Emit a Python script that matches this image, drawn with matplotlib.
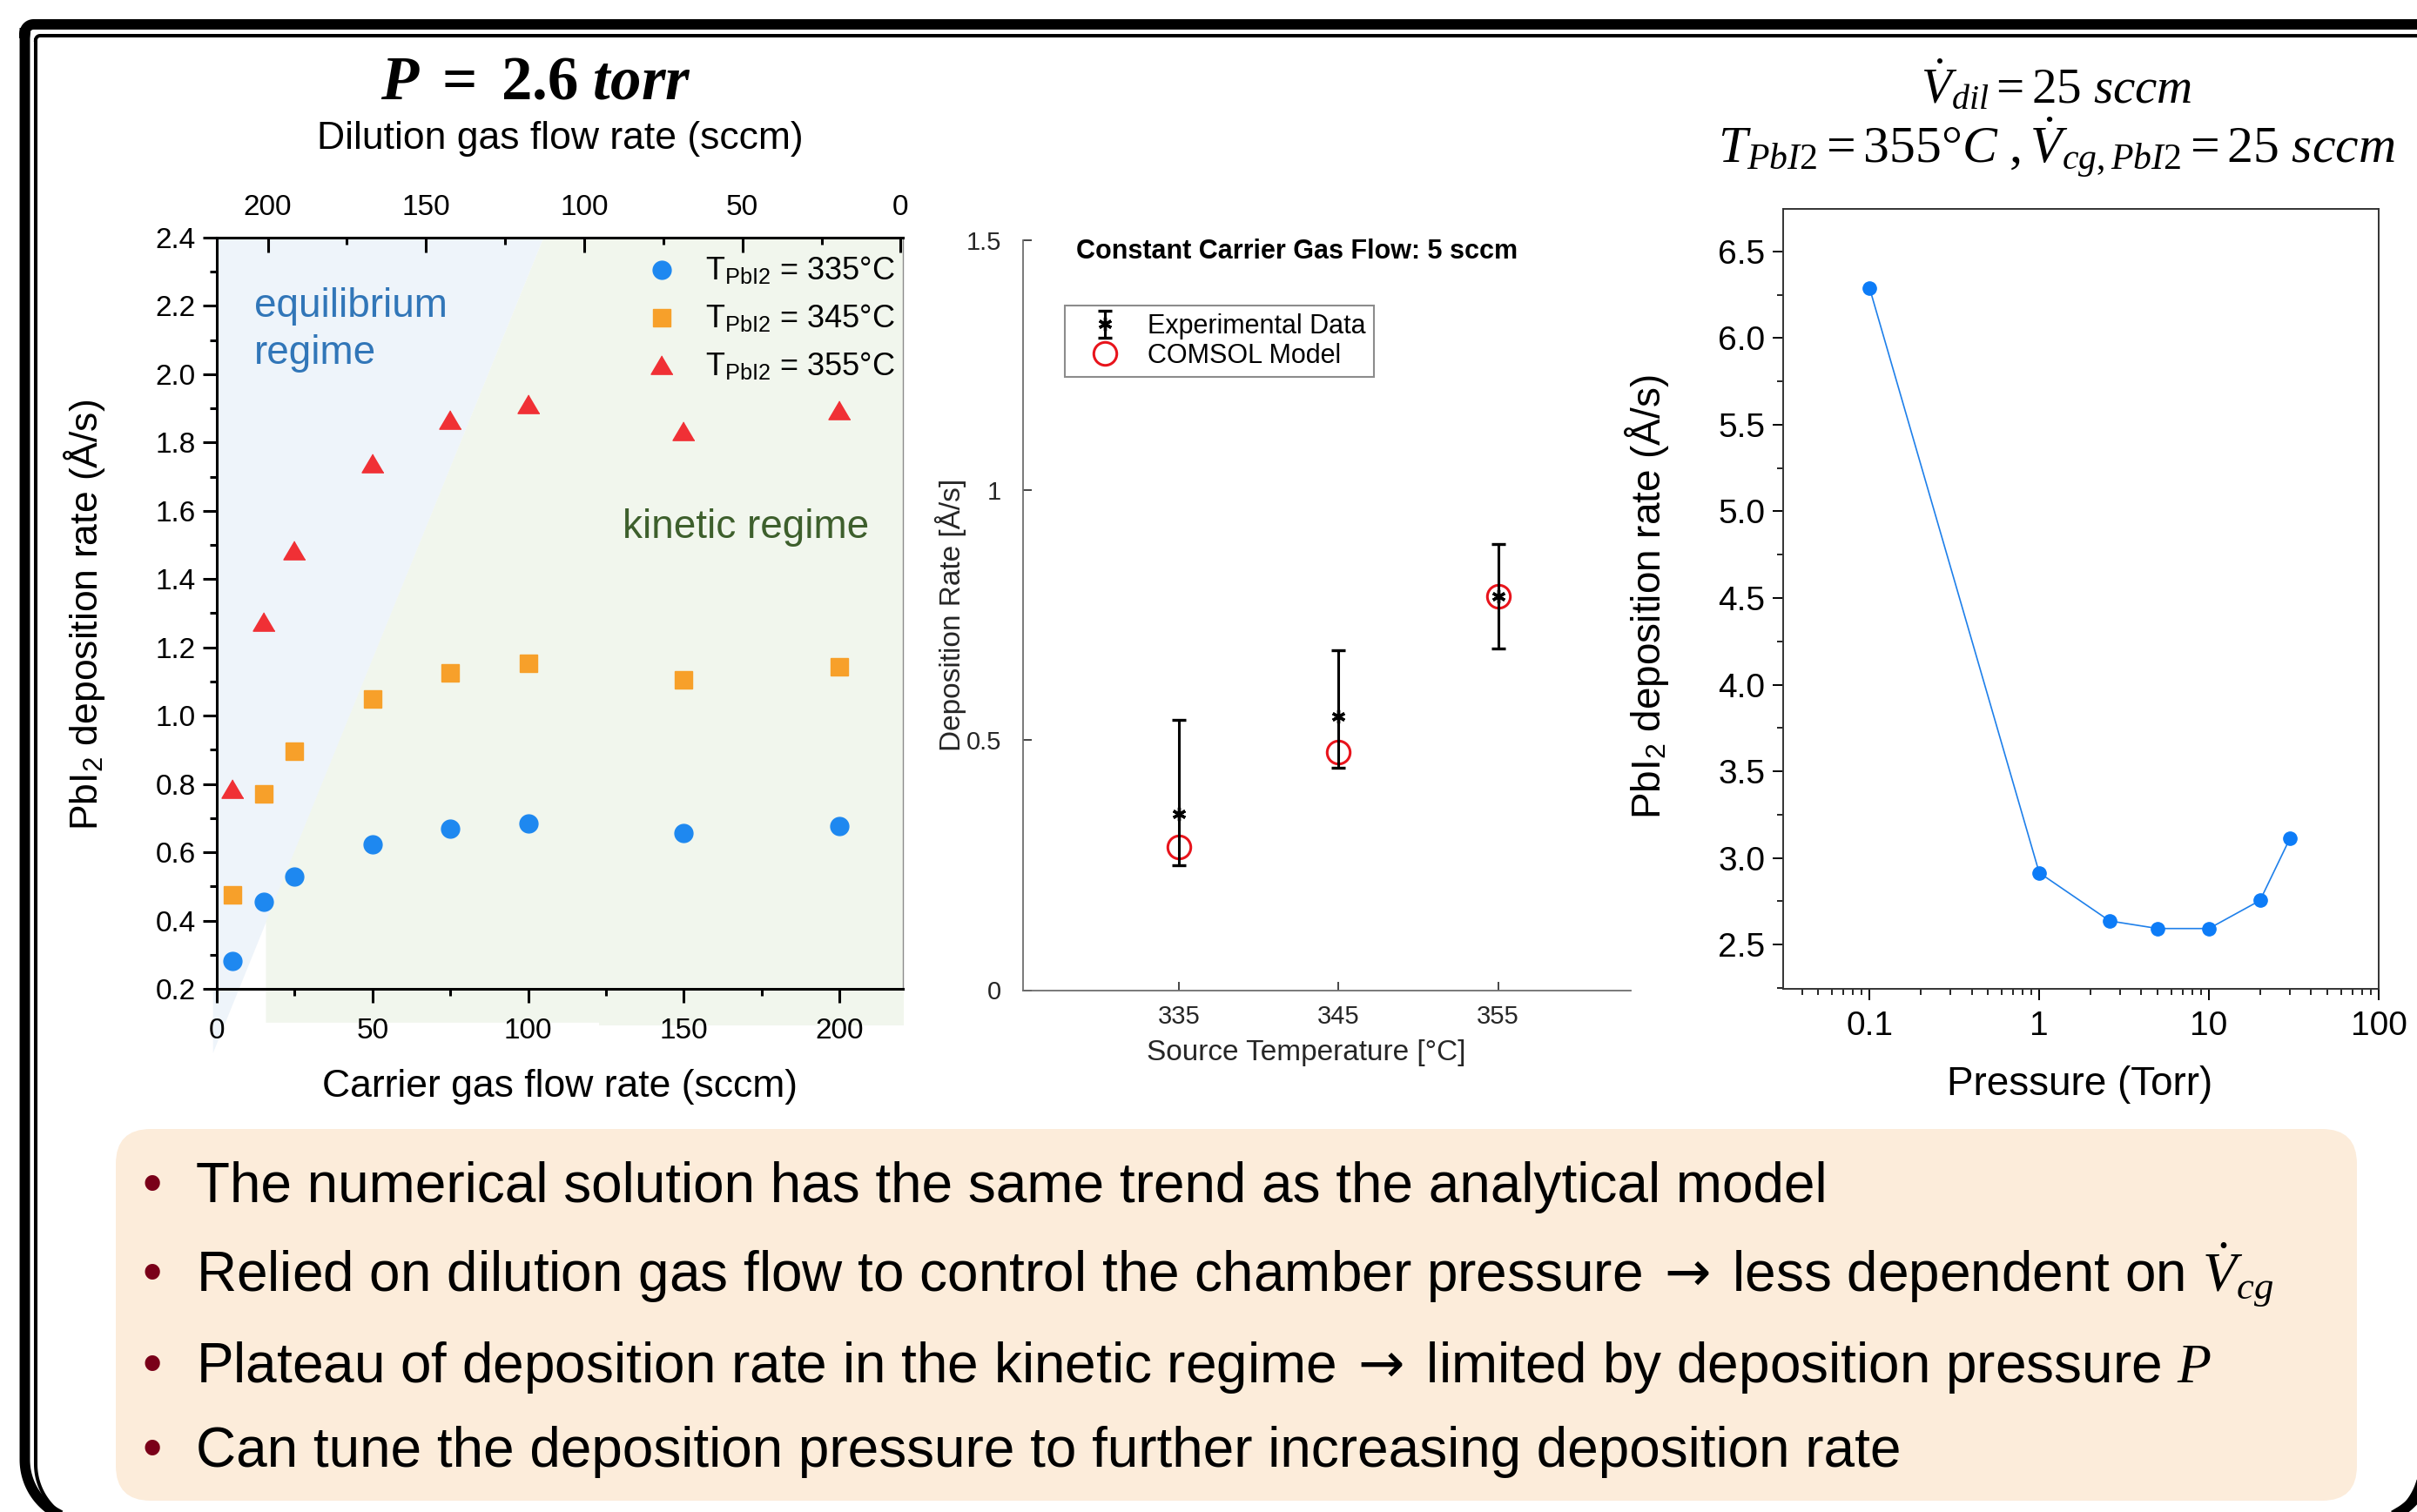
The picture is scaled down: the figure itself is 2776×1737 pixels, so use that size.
import numpy as np
import matplotlib
matplotlib.use('Agg')
import matplotlib.pyplot as plt
from matplotlib.patches import Polygon, FancyBboxPatch
from matplotlib.lines import Line2D
from matplotlib.ticker import MultipleLocator, FormatStrFormatter, LogLocator, FuncFormatter, NullFormatter

plt.rcParams['font.family'] = ['Liberation Sans', 'DejaVu Sans']
plt.rcParams['mathtext.fontset'] = 'custom'
plt.rcParams['mathtext.rm'] = 'Liberation Serif'
plt.rcParams['mathtext.it'] = 'Liberation Serif:italic'
plt.rcParams['mathtext.bf'] = 'Liberation Serif:bold'
plt.rcParams['mathtext.bfit'] = 'Liberation Serif:italic:bold'
plt.rcParams['mathtext.sf'] = 'DejaVu Sans'

# left panel: deposition rate vs carrier gas flow (P = 2.6 torr)
carrier_flow = [5, 15, 25, 50, 75, 100, 150, 200]
rate_335 = [0.281, 0.456, 0.530, 0.623, 0.669, 0.685, 0.656, 0.677]
rate_345 = [0.475, 0.770, 0.895, 1.049, 1.126, 1.154, 1.106, 1.144]
rate_355 = [0.786, 1.277, 1.484, 1.741, 1.866, 1.913, 1.834, 1.896]
left_labels = [r'T$_\mathregular{PbI2}$ = 335°C',
               r'T$_\mathregular{PbI2}$ = 345°C',
               r'T$_\mathregular{PbI2}$ = 355°C']

# middle panel: experiment vs COMSOL at 5 sccm carrier flow
source_temp = [335, 345, 355]
exp_rate = [0.353, 0.548, 0.787]
exp_low = [0.250, 0.444, 0.683]
exp_high = [0.541, 0.680, 0.892]
comsol_rate = [0.286, 0.477, 0.787]

# right panel: deposition rate vs pressure
pressure = [0.1, 1, 2.6, 5, 10, 20, 30]
rate_pressure = [6.29, 2.915, 2.637, 2.593, 2.593, 2.755, 3.113]

bullets = [
    'The numerical solution has the same trend as the analytical model',
    r'Relied on dilution gas flow to control the chamber pressure$\mathsf{\ \rightarrow\ }$less dependent on $\dot{V}_{cg}$',
    r'Plateau of deposition rate in the kinetic regime$\mathsf{\ \rightarrow\ }$limited by deposition pressure $P$',
    'Can tune the deposition pressure to further increasing deposition rate',
]

W, H = 2776, 1737
fig = plt.figure(figsize=(W / 100, H / 100), dpi=100)

# background canvas in pixel units (frame, text box, titles)
canvas = fig.add_axes([0, 0, 1, 1], zorder=-1)
canvas.set_xlim(0, W)
canvas.set_ylim(H, 0)
canvas.axis('off')


def frame(x0, y0, x1, y1, rt, rb):
    def arc(cx, cy, r, a0, a1):
        t = np.radians(np.linspace(a0, a1, 40))
        return list(zip(cx + r * np.cos(t), cy + r * np.sin(t)))
    pts = arc(x0 + rt, y0 + rt, rt, 180, 270)
    pts += arc(x1 - rt, y0 + rt, rt, 270, 360)
    pts += arc(x1 - rb, y1 - rb, rb, 0, 90)
    pts += arc(x0 + rb, y1 - rb, rb, 90, 180)
    pts.append(pts[0])
    return np.array(pts)


outer = frame(28.5, 28, 2790, 1747, 10, 70)
inner = frame(41, 41, 2780, 1752, 5, 70)
canvas.plot(outer[:, 0], outer[:, 1], color='black', lw=8.6, solid_joinstyle='round')
canvas.plot(inner[:, 0], inner[:, 1], color='black', lw=2.9, solid_joinstyle='round')

box = FancyBboxPatch((133, 1297), 2574, 427, boxstyle='round,pad=0,rounding_size=40',
                     facecolor='#fcecda', edgecolor='none')
canvas.add_patch(box)
for txt, yb in zip(bullets, [1381, 1483, 1588, 1685]):
    canvas.text(175, yb, '•', color='#7a0019', fontsize=46, ha='center', va='baseline')
    canvas.text(225, yb, txt, fontsize=46, ha='left', va='baseline')

canvas.text(615, 113, r'$\mathbfit{P}\ \mathbf{=}\ \mathbf{2.6}\ \mathbfit{torr}$',
            fontsize=51, ha='center', va='baseline')
canvas.text(2362, 118, r'$\dot{V}_{dil} = 25\ sccm$', fontsize=41, ha='center', va='baseline')
canvas.text(2362, 187, r'$T_{PbI2} = 355°C\ ,\dot{V}_{cg,PbI2} = 25\ sccm$',
            fontsize=43, ha='center', va='baseline')

# ---------------- left panel ----------------
ax1 = fig.add_axes([249 / W, 1 - 1136 / H, 788 / W, 863 / H])
ax1.set_facecolor('none')
ax1.set_xlim(0, 220.4)
ax1.set_ylim(0.2, 2.4)

blue_zone = Polygon([(0, 2.4), (105, 2.4), (-1.2, 0.012), (-1.2, 0.2), (0, 0.2)],
                    closed=True, facecolor='#eef4fa', edgecolor='none', zorder=0, clip_on=False)
green_zone = Polygon([(105, 2.4), (220.4, 2.4), (220.7, 0.093), (122.8, 0.093), (122.8, 0.101),
                      (15.8, 0.101), (15.8, 0.397)],
                     closed=True, facecolor='#f1f6ed', edgecolor='none', zorder=0, clip_on=False)
ax1.add_patch(blue_zone)
ax1.add_patch(green_zone)

tri = [(0, 0.85), (-1, -0.85), (1, -0.85)]
ax1.plot(carrier_flow, rate_335, 'o', ls='none', color='#1e88f0', ms=15, label=left_labels[0], zorder=3)
ax1.plot(carrier_flow, rate_345, 's', ls='none', color='#f7a02a', ms=14, label=left_labels[1], zorder=3)
ax1.plot(carrier_flow, rate_355, marker=tri, ls='none', color='#f03035', ms=18, label=left_labels[2], zorder=3)

ax1.text(12, 2.13, 'equilibrium\nregime', color='#3176b8',
         fontsize=33, ha='left', va='center', linespacing=1.3)
ax1.text(209.5, 1.55, 'kinetic regime', color='#3d5f2c', fontsize=33, ha='right', va='center')

ax1.xaxis.set_major_locator(MultipleLocator(50))
ax1.xaxis.set_minor_locator(MultipleLocator(25))
ax1.yaxis.set_major_locator(MultipleLocator(0.2))
ax1.yaxis.set_minor_locator(MultipleLocator(0.1))
ax1.yaxis.set_major_formatter(FormatStrFormatter('%.1f'))
ax1.tick_params(which='major', direction='out', length=11.5, width=2.2, labelsize=24)
ax1.tick_params(which='minor', direction='out', length=6, width=2.2)
ax1.tick_params(axis='y', pad=6)
ax1.tick_params(axis='x', pad=12)
for s in ['left', 'bottom', 'top']:
    ax1.spines[s].set_linewidth(2.2)
ax1.spines['right'].set_linewidth(1.0)
ax1.spines['right'].set_color('#8c8c8c')

ax1.set_xlabel('Carrier gas flow rate (sccm)', fontsize=32)
ax1.xaxis.set_label_coords(0.5, -0.1298)
ax1.xaxis.label.set_va('center')
ax1.set_ylabel(r'PbI$_\mathregular{2}$ deposition rate (Å/s)', fontsize=32)
ax1.yaxis.set_label_coords(-0.193, 0.498)
ax1.yaxis.label.set_va('center')

ax1.legend(loc='upper right', bbox_to_anchor=(1.005, 0.99), fontsize=26, frameon=False,
           handlelength=1.0, handletextpad=0.9, labelspacing=0.52, borderpad=0.35, borderaxespad=0)

ax1top = ax1.twiny()
ax1top.set_xlim(216.1, -0.7)
ax1top.xaxis.set_major_locator(MultipleLocator(50))
ax1top.xaxis.set_minor_locator(MultipleLocator(25))
ax1top.tick_params(which='major', direction='in', length=12, width=2.2, labelsize=24, pad=14)
ax1top.tick_params(which='minor', direction='in', length=6, width=2.2)
for s in ax1top.spines.values():
    s.set_visible(False)
ax1top.set_xlabel('Dilution gas flow rate (sccm)', fontsize=32)
ax1top.xaxis.set_label_coords(0.5006, 1.132)
ax1top.xaxis.label.set_va('center')

# ---------------- middle panel ----------------
ax2 = fig.add_axes([1175 / W, 1 - 1137.5 / H, 698 / W, 861.5 / H])
ax2.set_facecolor('none')
ax2.set_xlim(325.25, 363.3)
ax2.set_ylim(0, 1.5)
yerr = [np.array(exp_rate) - np.array(exp_low), np.array(exp_high) - np.array(exp_rate)]
ax2.plot(source_temp, comsol_rate, 'o', ls='none', mfc='none', mec='#e8141c', mew=2.2, ms=19,
         zorder=3)
exp_handle = ax2.errorbar(source_temp, exp_rate, yerr=yerr, fmt='', marker=(6, 2, 0), ls='none',
                          color='black', ms=11, mew=2.4, elinewidth=2.2, capsize=6, capthick=2.2,
                          zorder=4)
comsol_handle = Line2D([], [], marker='o', ls='none', mfc='none', mec='#e8141c', mew=2.2, ms=19)
leg2 = ax2.legend([exp_handle, comsol_handle], ['Experimental Data', 'COMSOL Model'],
                  loc='upper left', bbox_to_anchor=(0.0688, 0.913), borderaxespad=0,
                  fontsize=22, fancybox=False, edgecolor='#8c8c8c', framealpha=1,
                  handlelength=2.4, handletextpad=0.4, labelspacing=0.12, borderpad=0.3)
leg2.get_frame().set_linewidth(1.5)

ax2.set_xticks(source_temp)
ax2.yaxis.set_major_locator(MultipleLocator(0.5))
ax2.yaxis.set_major_formatter(FuncFormatter(lambda v, p: '%g' % v))
ax2.tick_params(direction='in', length=7.5, width=1.2, labelsize=21, colors='#262626')
ax2.tick_params(axis='y', pad=18)
ax2.tick_params(axis='x', pad=12)
ax2.spines['top'].set_visible(False)
ax2.spines['right'].set_visible(False)
for s in ['left', 'bottom']:
    ax2.spines[s].set_color('#6e6e6e')
    ax2.spines[s].set_linewidth(1.3)
ax2.text(0.45, 0.985, 'Constant Carrier Gas Flow: 5 sccm', transform=ax2.transAxes,
         fontsize=22, fontweight='bold', ha='center', va='center')
ax2.set_xlabel('Source Temperature [°C]', fontsize=24, color='#262626')
ax2.xaxis.set_label_coords(0.4656, -0.083)
ax2.xaxis.label.set_va('center')
ax2.set_ylabel('Deposition Rate [Å/s]', fontsize=24, color='#262626')
ax2.yaxis.set_label_coords(-0.119, 0.5009)
ax2.yaxis.label.set_va('center')

# ---------------- right panel ----------------
ax3 = fig.add_axes([2048 / W, 1 - 1136 / H, 684 / W, 896 / H])
ax3.set_facecolor('none')
ax3.plot(pressure, rate_pressure, '-o', color='#1f80ea', lw=1.2, ms=11, mfc='#0d7cf7', mec='#0d7cf7')
ax3.set_xscale('log')
ax3.set_xlim(0.031, 100)
ax3.set_ylim(2.245, 6.745)
ax3.xaxis.set_major_locator(LogLocator(base=10, numticks=10))
ax3.xaxis.set_minor_locator(LogLocator(base=10, subs=np.arange(2, 10), numticks=10))
ax3.xaxis.set_major_formatter(FuncFormatter(lambda v, p: '%g' % v))
ax3.xaxis.set_minor_formatter(NullFormatter())
ax3.yaxis.set_major_locator(MultipleLocator(0.5))
ax3.yaxis.set_minor_locator(MultipleLocator(0.25))
ax3.yaxis.set_major_formatter(FormatStrFormatter('%.1f'))
ax3.tick_params(which='major', direction='out', length=9, width=1.4, labelsize=28)
ax3.tick_params(which='minor', direction='out', length=5, width=1.2)
ax3.tick_params(axis='y', pad=6)
ax3.tick_params(axis='x', pad=9)
for s in ax3.spines.values():
    s.set_linewidth(1.4)
    s.set_color('#333333')
ax3.set_xlabel('Pressure (Torr)', fontsize=33)
ax3.xaxis.set_label_coords(0.4985, -0.1228)
ax3.xaxis.label.set_va('center')
ax3.set_ylabel(r'PbI$_\mathregular{2}$ deposition rate (Å/s)', fontsize=33)
ax3.yaxis.set_label_coords(-0.2295, 0.502)
ax3.yaxis.label.set_va('center')

fig.savefig('out.png', dpi=100)
